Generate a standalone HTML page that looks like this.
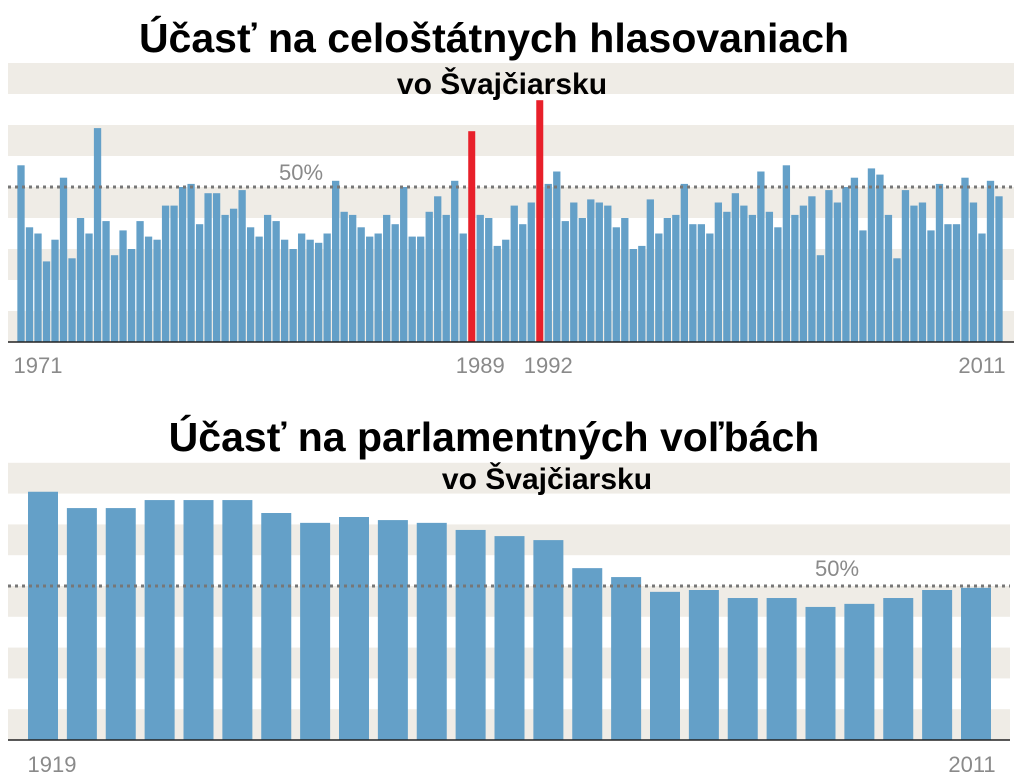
<!DOCTYPE html>
<html><head><meta charset="utf-8">
<style>
html,body{margin:0;padding:0;background:#fff;}
svg{display:block;}
.t{font-family:"Liberation Sans",Arial,sans-serif;font-weight:bold;fill:#000;}
.ax{font-family:"Liberation Sans",Arial,sans-serif;fill:#8a8a8a;font-size:22px;}
</style></head>
<body>
<svg id="chart" width="1024" height="780" viewBox="0 0 1024 780" xmlns="http://www.w3.org/2000/svg">
<g id="top"></g>
<text class="t" x="494" y="52" font-size="41" text-anchor="middle">Účasť na celoštátnych hlasovaniach</text>
<text class="t" x="502" y="94" font-size="30" text-anchor="middle">vo Švajčiarsku</text>
<g id="bot"></g>
<text class="t" x="494" y="451" font-size="41" text-anchor="middle">Účasť na parlamentných voľbách</text>
<text class="t" x="547" y="489" font-size="30" text-anchor="middle">vo Švajčiarsku</text>
</svg>
<script>
// Referendum turnout (%), 1971–2011, one bar per voting date
const refValues = [57,37,35,26,33,53,27,40,35,69,39,28,36,30,39,34,33,44,44,50,51,38,48,48,41,43,49,37,34,41,39,33,30,35,33,32,35,52,42,41,37,34,35,41,38,50,34,34,42,47,41,52,35,68,41,40,31,33,44,38,45,78,51,55,39,45,40,46,45,44,37,40,30,31,46,35,40,41,51,38,38,35,45,42,48,44,41,55,42,37,57,41,44,47,28,49,45,50,53,36,56,54,41,27,49,44,45,36,51,38,38,53,45,35,52,47];
const refHighlight = [53,61];
const refTicks = ["1971","1989","1992","2011"];
const refTickIdx = [2,54,62,113];
// Parliamentary election turnout (%)
const elecYears = ["1919","1922","1925","1928","1931","1935","1939","1943","1947","1951","1955","1959","1963","1967","1971","1975","1979","1983","1987","1991","1995","1999","2003","2007","2011"];
const elecValues = [80.6,75.3,75.3,77.9,77.9,77.9,73.7,70.5,72.4,71.4,70.5,68.2,66.2,64.9,55.8,52.9,48.1,48.7,46.1,46.1,43.2,44.2,46.1,48.7,49.4];
const elecTicks = ["1919","2011"];

const NS="http://www.w3.org/2000/svg";
function mk(parent,tag,attrs){const e=document.createElementNS(NS,tag);for(const k in attrs)e.setAttribute(k,attrs[k]);parent.appendChild(e);return e;}

function panel(g,base,pxPer,x0,x1){
  const y=v=>base-v*pxPer;
  for(let b=0;b<100;b+=20){
    const r=mk(g,'rect',{x:x0,y:y(b+10),width:x1-x0,height:10*pxPer,fill:'#efece6'});
    
    
  }
  return y;
}
function refline(g,y,x0,x1,lx,ly){
  const l=mk(g,'line',{x1:x0,x2:x1,y1:y(50),y2:y(50),stroke:'#777','stroke-width':3,'stroke-dasharray':'3 4'});
  
  
  const t=mk(g,'text',{x:lx,y:ly,class:'ax'});t.textContent='50%';
  
  
}

// top chart
(function(){
  const g=document.getElementById('top');
  const base=342,pp=3.1,x0=8,x1=1014;
  const y=panel(g,base,pp,x0,x1);
  const c0=21,c1=999,step=(c1-c0)/(refValues.length-1);
  const xc=i=>c0+i*step;
  refValues.forEach((v,i)=>{
    if(refHighlight.includes(i))return;
    const r=mk(g,'rect',{x:xc(i)-step/2+0.6,y:y(v),width:step-1.2,height:v*pp,fill:'#64a0c8'});
    
    
  });
  refline(g,y,x0,x1,279,180);
  refHighlight.forEach(i=>{
    const v=refValues[i];
    const r=mk(g,'rect',{x:xc(i)-3.5,y:y(v),width:7,height:v*pp,fill:'#e8202a'});
    
    
  });
  const ax=mk(g,'line',{x1:x0,x2:x1,y1:base,y2:base,stroke:'#222','stroke-width':1.5});
  
  
  refTicks.forEach((s,k)=>{
    const t=mk(g,'text',{x:xc(refTickIdx[k]),y:373,class:'ax','text-anchor':'middle'});t.textContent=s;
    
    
  });
})();

// bottom chart
(function(){
  const g=document.getElementById('bot');
  const base=740,pp=3.08,x0=8,x1=1010;
  const y=panel(g,base,pp,x0,x1);
  const c0=43,c1=976,step=(c1-c0)/(elecValues.length-1),w=30;
  const xc=i=>c0+i*step;
  elecValues.forEach((v,i)=>{
    const r=mk(g,'rect',{x:xc(i)-w/2,y:y(v),width:w,height:v*pp,fill:'#64a0c8'});
    
    
  });
  refline(g,y,x0,x1,815,576);
  const ax=mk(g,'line',{x1:x0,x2:x1,y1:base,y2:base,stroke:'#222','stroke-width':1.5});
  
  
  [[elecTicks[0],0,9],[elecTicks[1],elecValues.length-1,-4]].forEach(([s,i,off])=>{
    const t=mk(g,'text',{x:xc(i)+off,y:772,class:'ax','text-anchor':'middle'});t.textContent=s;
    
    
  });
})();
</script>
</body></html>
